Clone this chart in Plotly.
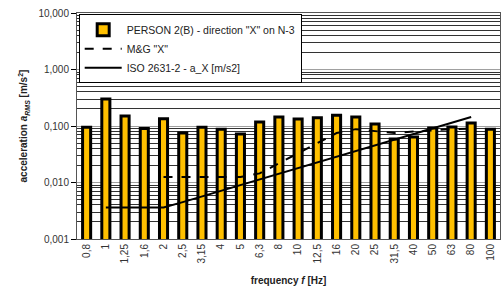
import plotly.graph_objects as go

freq_labels = ["0,8", "1", "1,25", "1,6", "2", "2,5", "3,15", "4", "5", "6,3", "8", "10",
               "12,5", "16", "20", "25", "31,5", "40", "50", "63", "80", "100"]
person_x = [0.095, 0.30, 0.15, 0.09, 0.135, 0.075, 0.095, 0.088, 0.072, 0.118, 0.145,
            0.133, 0.14, 0.155, 0.145, 0.108, 0.059, 0.064, 0.092, 0.096, 0.113, 0.088]
mg_x = [None, None, None, None, 0.0125, 0.0125, 0.0125, 0.0125, 0.0125, 0.0145, 0.022,
        0.033, 0.05, 0.075, 0.088, 0.082, 0.075, 0.08, 0.085, 0.088, 0.09, None]
iso_x = [None, 0.0036, 0.0036, 0.0036, 0.0036, 0.0045, 0.00567, 0.0072, 0.009, 0.01134,
         0.0144, 0.018, 0.0225, 0.0288, 0.036, 0.045, 0.0567, 0.072, 0.09, 0.1134, 0.144, None]
y_tickvals = [0.001, 0.01, 0.1, 1, 10]
y_ticktext = ["0,001", "0,010", "0,100", "1,000", "10,000"]

font_family = "Liberation Sans, Arial, sans-serif"

fig = go.Figure()
fig.add_trace(go.Bar(
    x=freq_labels, y=person_x, name='PERSON 2(B) - direction "X" on N-3',
    marker=dict(color="#FFC000", line=dict(color="black", width=3)),
    width=0.42,
))
fig.add_trace(go.Scatter(
    x=freq_labels, y=mg_x, name='M&G "X"', mode="lines",
    line=dict(color="black", width=2, dash="dash"),
))
fig.add_trace(go.Scatter(
    x=freq_labels, y=iso_x, name="ISO 2631-2 - a_X [m/s2]", mode="lines",
    line=dict(color="black", width=2),
))

fig.update_layout(
    width=502, height=286,
    margin=dict(l=77, r=2, t=13, b=47),
    paper_bgcolor="white", plot_bgcolor="white",
    font=dict(family=font_family, size=10, color="#222"),
    showlegend=True,
    legend=dict(
        x=0.004, y=0.995, xanchor="left", yanchor="top",
        bgcolor="white", bordercolor="black", borderwidth=1,
        font=dict(size=10.5, color="#222"),
        tracegroupgap=0, itemwidth=37,
    ),
)
fig.update_yaxes(
    type="log", range=[-3, 1], automargin=False,
    tickvals=y_tickvals, ticktext=y_ticktext, ticklabeloverflow="allow",
    showgrid=True, gridcolor="#a0a0a0", gridwidth=1,
    minor=dict(showgrid=True, gridcolor="#333", gridwidth=0.8, dtick="D1", ticks=""),
    ticks="outside", ticklen=5, tickcolor="black",
    showline=True, linecolor="#555", linewidth=1, mirror=True,
    tickfont=dict(size=10, color="#333"),
    title=dict(text="<b>acceleration <i>a</i><sub><i>RMS</i></sub> [m/s<sup>2</sup>]</b>",
               font=dict(size=10, color="#222"), standoff=8),
)
fig.update_xaxes(
    type="category", tickangle=-90, automargin=False, ticklabeloverflow="allow",
    showgrid=False,
    showline=True, linecolor="#555", linewidth=1, mirror=True,
    ticks="", tickfont=dict(size=10, color="#333"),
    title=dict(text="<b>frequency <i>f</i> [Hz]</b>", font=dict(size=10, color="#222"), standoff=14),
)

fig.write_html(
    "out.html",
    config={"displayModeBar": False},
    post_script="document.body.style.margin='0';document.body.style.overflow='hidden';",
)
